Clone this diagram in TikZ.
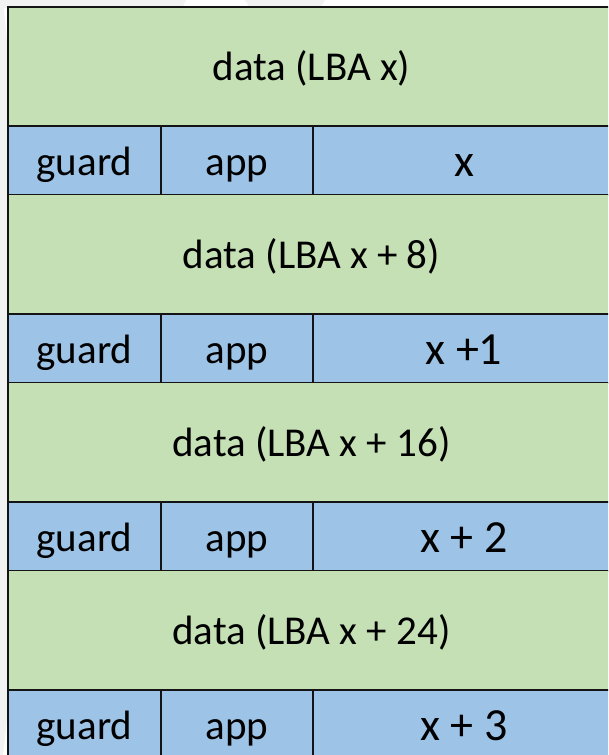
\documentclass[tikz,border=0pt]{standalone}
\usepackage{fontspec}
\setmainfont{Carlito}
\definecolor{pagegray}{HTML}{F2F2F2}
\definecolor{datagreen}{HTML}{C5E0B4}
\definecolor{hdrblue}{HTML}{9DC3E6}
\definecolor{rule}{HTML}{141414}
\tikzset{
  datarow/.style={fill=datagreen},
  hdrrow/.style={fill=hdrblue},
  celltext/.style={inner sep=0pt, anchor=base, font=\fontsize{41}{48}\selectfont},
  lbatext/.style={inner sep=0pt, anchor=base, font=\fontsize{46}{54}\selectfont},
  frame/.style={draw=rule, line width=2.6pt}
}
\begin{document}
\begin{tikzpicture}[x=1pt,y=-1pt]
  \useasboundingbox (0,0) rectangle (608,755);
  \clip (0,0) rectangle (608,755);
  % page background with faint white watermark bands
  \fill[white] (0,0) rectangle (608,755);
  \fill[pagegray] (0,0) -- (186,0) -- (182,8) -- (0,8) -- cycle;
  \fill[pagegray] (245,0) -- (325,0) -- (320,8) -- (250,8) -- cycle;
  \fill[pagegray] (0,100) rectangle (9,690);
  \fill[pagegray] (0,0) -- (3,0) -- (9,60) -- (9,100) -- (0,100) -- cycle;
  \fill[pagegray] (0,690) -- (9,690) -- (9,700) -- (3,755) -- (0,755) -- cycle;

  % four sectors: a data block followed by its protection header
  \foreach \i/\d/\l in {0/{data (LBA x)}/{x}, 1/{data (LBA x + 8)}/{x +1},
                        2/{data (LBA x + 16)}/{x + 2}, 3/{data (LBA x + 24)}/{x + 3}} {
    \pgfmathsetmacro{\ytop}{7+188*\i}
    \pgfmathsetmacro{\ymid}{\ytop+119}
    \pgfmathsetmacro{\ybot}{\ytop+188}
    \fill[datarow] (8,\ytop) rectangle (615,\ymid);
    \fill[hdrrow] (8,\ymid) rectangle (615,\ybot);
    \node[celltext] (data\i) at (311.5,\ytop+73.5) {\d};
    \node[celltext] (guard\i) at (84.5,\ymid+49) {guard};
    \node[celltext] (app\i) at (237,\ymid+49) {app};
    \node[lbatext] (ref\i) at (464,\ymid+50.5) {\l};
    \draw[frame] (8,\ymid) -- (615,\ymid);
    \draw[frame] (161,\ymid) -- (161,\ybot);
    \draw[frame] (313,\ymid) -- (313,\ybot);
    \draw[frame] (8,\ybot) -- (615,\ybot);
  }
  \draw[frame] (8,760) -- (8,7) -- (615,7) -- (615,760);
\end{tikzpicture}
\end{document}
